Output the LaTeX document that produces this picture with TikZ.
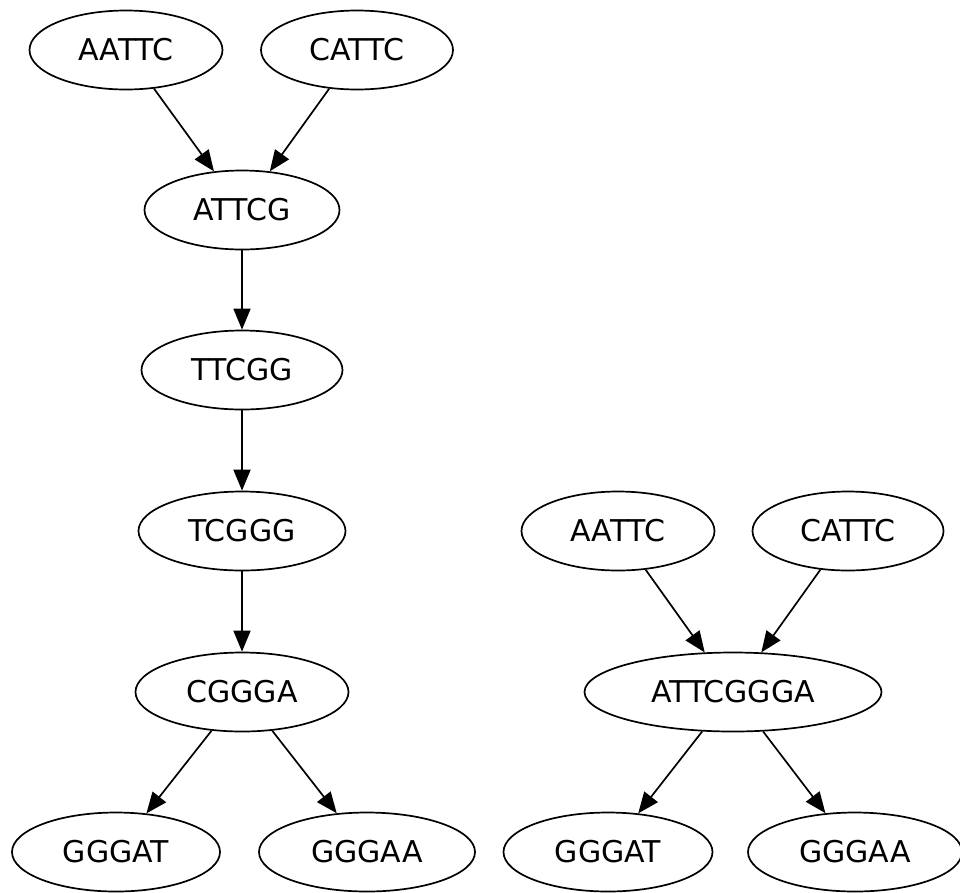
\documentclass[tikz,border=0pt]{standalone}
\usepackage{fontspec}
\setmainfont{DejaVu Sans}
\usetikzlibrary{shapes.geometric,arrows.meta}
\tikzset{
  nd/.style={ellipse, draw, line width=1.7pt, inner sep=0pt, minimum height=79pt,
    font=\fontsize{30}{36}\selectfont},
  arr/.style={line width=1.7pt, -{Triangle[length=21pt,width=17pt]}, shorten >=0pt}
}
\begin{document}
\begin{tikzpicture}[x=1pt,y=-1pt]
\useasboundingbox (0,0) rectangle (960,892);
% left graph
\node[nd, minimum width=193pt] (a1) at (126,50) {AATTC};
\node[nd, minimum width=192pt] (c1) at (357,50) {CATTC};
\node[nd, minimum width=195pt] (g1) at (242,210) {ATTCG};
\node[nd, minimum width=201pt] (t1) at (242,370) {TTCGG};
\node[nd, minimum width=207pt] (t2) at (242,531) {TCGGG};
\node[nd, minimum width=213pt] (cg) at (242,692) {CGGGA};
\node[nd, minimum width=208pt] (ga1) at (116,852) {GGGAT};
\node[nd, minimum width=216pt] (gb1) at (367,852) {GGGAA};
% right graph
\node[nd, minimum width=193pt] (a2) at (618,531) {AATTC};
\node[nd, minimum width=191pt] (c2) at (848,531) {CATTC};
\node[nd, minimum width=297pt] (m) at (733,692) {ATTCGGGA};
\node[nd, minimum width=209pt] (ga2) at (608,852) {GGGAT};
\node[nd, minimum width=214pt] (gb2) at (855,852) {GGGAA};
% edges
\draw[arr] (a1) -- (g1);
\draw[arr] (c1) -- (g1);
\draw[arr] (g1) -- (t1);
\draw[arr] (t1) -- (t2);
\draw[arr] (t2) -- (cg);
\draw[arr] (cg) -- (ga1);
\draw[arr] (cg) -- (gb1);
\draw[arr] (a2) -- (m);
\draw[arr] (c2) -- (m);
\draw[arr] (m) -- (ga2);
\draw[arr] (m) -- (gb2);
\end{tikzpicture}
\end{document}
